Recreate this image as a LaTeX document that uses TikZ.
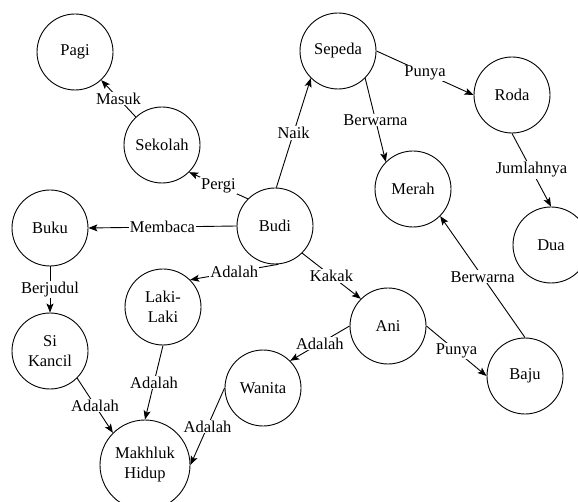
\documentclass[tikz,border=0pt]{standalone}
\usepackage{fontspec}
\setmainfont{Liberation Serif}
\usetikzlibrary{arrows.meta}
\begin{document}
\begin{tikzpicture}[x=1pt,y=-1pt,
  concept/.style={circle,draw,line width=0.9pt,minimum size=76pt,inner sep=0pt,align=center,font=\fontsize{16.5}{20}\selectfont},
  rel/.style={draw,line width=0.9pt,-{Stealth[length=9pt,width=7pt,inset=2pt]}},
  lbl/.style={fill=white,inner sep=1pt,font=\fontsize{16.5}{20}\selectfont}]
\useasboundingbox (0,0) rectangle (578,502);
\clip (0,0) rectangle (578,502);
\node[concept] (pagi) at (75,52) {Pagi};
\node[concept] (sekolah) at (162,145) {Sekolah};
\node[concept] (buku) at (50,228) {Buku};
\node[concept] (budi) at (275,226) {Budi};
\node[concept] (sepeda) at (338,51) {Sepeda};
\node[concept] (roda) at (512,95) {Roda};
\node[concept] (merah) at (413,189) {Merah};
\node[concept] (dua) at (551,245) {Dua};
\node[concept] (laki) at (163,307) {Laki-\\Laki};
\node[concept] (ani) at (388,326) {Ani};
\node[concept] (baju) at (525,376) {Baju};
\node[concept] (kancil) at (50,351) {Si\\Kancil};
\node[concept] (wanita) at (263,388) {Wanita};
\node[concept,minimum size=90pt] (makhluk) at (145,465) {Makhluk\\Hidup};

\draw[rel] (sekolah) -- node[lbl]{Masuk} (pagi);
\draw[rel] (budi.135) -- node[lbl]{Pergi} (sekolah.-45);
\draw[rel] (budi.180) -- node[lbl]{Membaca} (buku.0);
\draw[rel] (budi.88) -- node[lbl]{Naik} (sepeda.225);
\draw[rel] (sepeda.0) -- node[lbl]{Punya} (roda.180);
\draw[rel] (sepeda.-45) -- node[lbl]{Berwarna} (merah.135);
\draw[rel] (roda.270) -- node[lbl]{Jumlahnya} (dua.90);
\draw[rel] (baju.90) -- node[lbl]{Berwarna} (merah.-45);
\draw[rel] (budi.275) -- node[lbl]{Adalah} (laki.45);
\draw[rel] (budi.-45) -- node[lbl]{Kakak} (ani.135);
\draw[rel] (ani.180) -- node[lbl]{Adalah} (wanita.45);
\draw[rel] (ani.0) -- node[lbl]{Punya} (baju.180);
\draw[rel] (buku.270) -- node[lbl]{Berjudul} (kancil.90);
\draw[rel] (kancil.-45) -- node[lbl]{Adalah} (makhluk.135);
\draw[rel] (laki.270) -- node[lbl]{Adalah} (makhluk.90);
\draw[rel] (wanita.180) -- node[lbl]{Adalah} (makhluk.0);
\end{tikzpicture}
\end{document}
